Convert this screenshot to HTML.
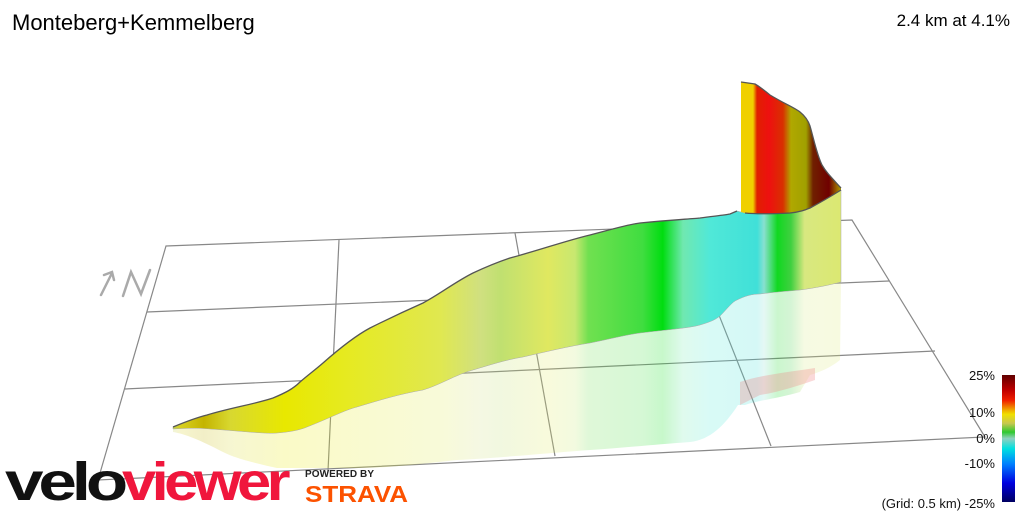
<!DOCTYPE html>
<html><head><meta charset="utf-8"><style>
html,body{margin:0;padding:0;background:#fff;}
svg{display:block;font-family:"Liberation Sans",sans-serif;}
</style></head><body>
<svg width="1024" height="512" viewBox="0 0 1024 512">
<defs>
<linearGradient id="rib" gradientUnits="userSpaceOnUse" x1="170" y1="0" x2="845" y2="0">
<stop offset="0" stop-color="#b8d060"/>
<stop offset="0.015" stop-color="#d8d020"/>
<stop offset="0.05" stop-color="#c4b400"/>
<stop offset="0.09" stop-color="#d8d830"/>
<stop offset="0.17" stop-color="#e8e800"/>
<stop offset="0.26" stop-color="#e6ea20"/>
<stop offset="0.4" stop-color="#e0e850"/>
<stop offset="0.46" stop-color="#d0e080"/>
<stop offset="0.49" stop-color="#c0e070"/>
<stop offset="0.56" stop-color="#e0e860"/>
<stop offset="0.6" stop-color="#c8e870"/>
<stop offset="0.62" stop-color="#70e050"/>
<stop offset="0.7" stop-color="#40dd40"/>
<stop offset="0.73" stop-color="#00dd10"/>
<stop offset="0.76" stop-color="#70e8b0"/>
<stop offset="0.8" stop-color="#50e8d8"/>
<stop offset="0.87" stop-color="#40e0d8"/>
<stop offset="0.88" stop-color="#88e0d0"/>
<stop offset="0.9" stop-color="#10d820"/>
<stop offset="0.92" stop-color="#40d040"/>
<stop offset="0.94" stop-color="#d8e880"/>
<stop offset="1" stop-color="#dce870"/>
</linearGradient>
<linearGradient id="wall" gradientUnits="userSpaceOnUse" x1="741" y1="0" x2="841" y2="0">
<stop offset="0" stop-color="#f0d000"/>
<stop offset="0.12" stop-color="#f0d000"/>
<stop offset="0.16" stop-color="#e02000"/>
<stop offset="0.28" stop-color="#ee1010"/>
<stop offset="0.42" stop-color="#d83000"/>
<stop offset="0.5" stop-color="#b0a800"/>
<stop offset="0.65" stop-color="#a0a000"/>
<stop offset="0.72" stop-color="#702000"/>
<stop offset="0.88" stop-color="#700000"/>
<stop offset="1" stop-color="#b0a000"/>
</linearGradient>
<linearGradient id="cb" x1="0" y1="0" x2="0" y2="1">
<stop offset="0" stop-color="#600000"/>
<stop offset="0.12" stop-color="#c00000"/>
<stop offset="0.2" stop-color="#f02000"/>
<stop offset="0.27" stop-color="#f0a000"/>
<stop offset="0.31" stop-color="#f0e000"/>
<stop offset="0.38" stop-color="#c8c850"/>
<stop offset="0.45" stop-color="#30c830"/>
<stop offset="0.5" stop-color="#90d0c0"/>
<stop offset="0.58" stop-color="#00e0e0"/>
<stop offset="0.7" stop-color="#0080ff"/>
<stop offset="0.85" stop-color="#0000e0"/>
<stop offset="1" stop-color="#000060"/>
</linearGradient>
</defs>

<text x="12" y="30" font-size="22" fill="#000">Monteberg+Kemmelberg</text>
<text x="1010" y="26" font-size="17" fill="#000" text-anchor="end">2.4 km at 4.1%</text>

<g stroke="#888" stroke-width="1.2" fill="none">
<polygon points="166,246 852,220 985,437 98,480"/>
<line x1="147" y1="312" x2="889" y2="281"/>
<line x1="125" y1="389" x2="935" y2="351"/>
<line x1="339" y1="240" x2="328" y2="471"/>
<line x1="515" y1="233" x2="555" y2="456"/>
<line x1="684" y1="227" x2="771" y2="446"/>
</g>
<g stroke="#aaa" stroke-width="2.5" fill="none" stroke-linecap="round">
<path d="M101,295 L112,273 M104,275 L112,272 L114,280"/>
<path d="M123,296 L131,272 L141,294 L150,270"/>
</g>

<path d="M173,429 C190,428 200,428 210,429 C240,431 265,434 277,433 C290,432 300,430 307,427 C330,418 345,410 357,407 C380,400 400,394 423,390 C440,385 455,375 473,370 C490,365 505,360 523,357 C545,352 570,346 590,343 C610,339 625,335 640,333 C665,330 690,328 700,325 C710,322 715,320 720,316 C728,308 732,302 737,300 C745,296 752,294 760,294 C775,292 790,291 800,290 C815,288 830,285 841,282 L840,360 C830,368 820,372 810,375 L800,392 C780,398 760,400 745,405 L738,405 C725,425 710,440 690,442 C650,445 620,448 590,450 C560,452 500,458 457,460 C420,464 390,468 357,468 C320,468 300,468 277,468 C250,462 235,458 223,452 C200,440 185,434 173,432 Z" fill="url(#rib)" opacity="0.22"/>
<path d="M740,382 C760,375 790,372 815,368 L815,380 C800,385 780,392 760,395 L740,405 Z" fill="#f08080" opacity="0.3"/>

<path d="M173,427 C185,422 195,418 207,415 C230,408 255,404 273,398 C285,393 293,389 300,382 C308,375 315,370 323,363 C340,348 355,336 370,328 C390,318 405,311 423,303 C440,294 455,282 473,273 C488,266 498,262 510,258 C540,250 565,241 590,235 C610,230 625,225 640,223 C670,220 690,219 700,218 C715,216 725,215 730,214 L737,211 L745,213 C755,214 770,214 790,213 C800,212 805,210 810,208 C825,200 833,195 841,190 L841,282 C830,285 815,288 800,290 C790,291 775,292 760,294 C752,294 745,296 737,300 C732,302 728,308 720,316 C715,320 710,322 700,325 C690,328 665,330 640,333 C625,335 610,339 590,343 C570,346 545,352 523,357 C505,360 490,365 473,370 C455,375 440,385 423,390 C400,394 380,400 357,407 C345,410 330,418 307,427 C300,430 290,432 277,433 C265,434 240,431 210,429 C200,428 190,428 173,429 Z" fill="url(#rib)" stroke="#aaa" stroke-width="0.5"/>
<path d="M173,427 C185,422 195,418 207,415 C230,408 255,404 273,398 C285,393 293,389 300,382 C308,375 315,370 323,363 C340,348 355,336 370,328 C390,318 405,311 423,303 C440,294 455,282 473,273 C488,266 498,262 510,258 C540,250 565,241 590,235 C610,230 625,225 640,223 C670,220 690,219 700,218 C715,216 725,215 730,214 L737,211" fill="none" stroke="#555" stroke-width="1.3"/>
<path d="M741,82 L755,84 C762,88 766,92 770,95 C785,104 795,108 800,112 C805,116 808,120 810,126 C814,140 817,155 822,165 C826,172 830,176 841,188 L841,190 C833,195 825,200 810,208 C805,210 800,212 790,213 C770,214 755,214 745,213 L741,212 Z" fill="url(#wall)"/>
<path d="M741,82 L755,84 C762,88 766,92 770,95 C785,104 795,108 800,112 C805,116 808,120 810,126 C814,140 817,155 822,165 C826,172 830,176 841,188 M745,213 C755,214 770,214 790,213 C800,212 805,210 810,208 C825,200 833,195 841,190" fill="none" stroke="#555" stroke-width="1.3"/>

<text x="5" y="500" font-size="54" font-weight="bold" fill="#111" letter-spacing="-4" textLength="118" lengthAdjust="spacingAndGlyphs">velo</text>
<text x="122" y="500" font-size="54" font-weight="bold" fill="#f0163c" letter-spacing="-4" textLength="164" lengthAdjust="spacingAndGlyphs">viewer</text>
<text x="305" y="477" font-size="10" font-weight="bold" fill="#222" letter-spacing="1" textLength="70">POWERED BY</text>
<text x="305" y="502" font-size="23" font-weight="bold" fill="#fc5200" textLength="103" lengthAdjust="spacingAndGlyphs">STRAVA</text>

<rect x="1002" y="375" width="13" height="127" fill="url(#cb)"/>
<g font-size="13" fill="#111" text-anchor="end">
<text x="995" y="380">25%</text>
<text x="995" y="417">10%</text>
<text x="995" y="443">0%</text>
<text x="995" y="468">-10%</text>
<text x="995" y="508">(Grid: 0.5 km) -25%</text>
</g>
</svg>
</body></html>
